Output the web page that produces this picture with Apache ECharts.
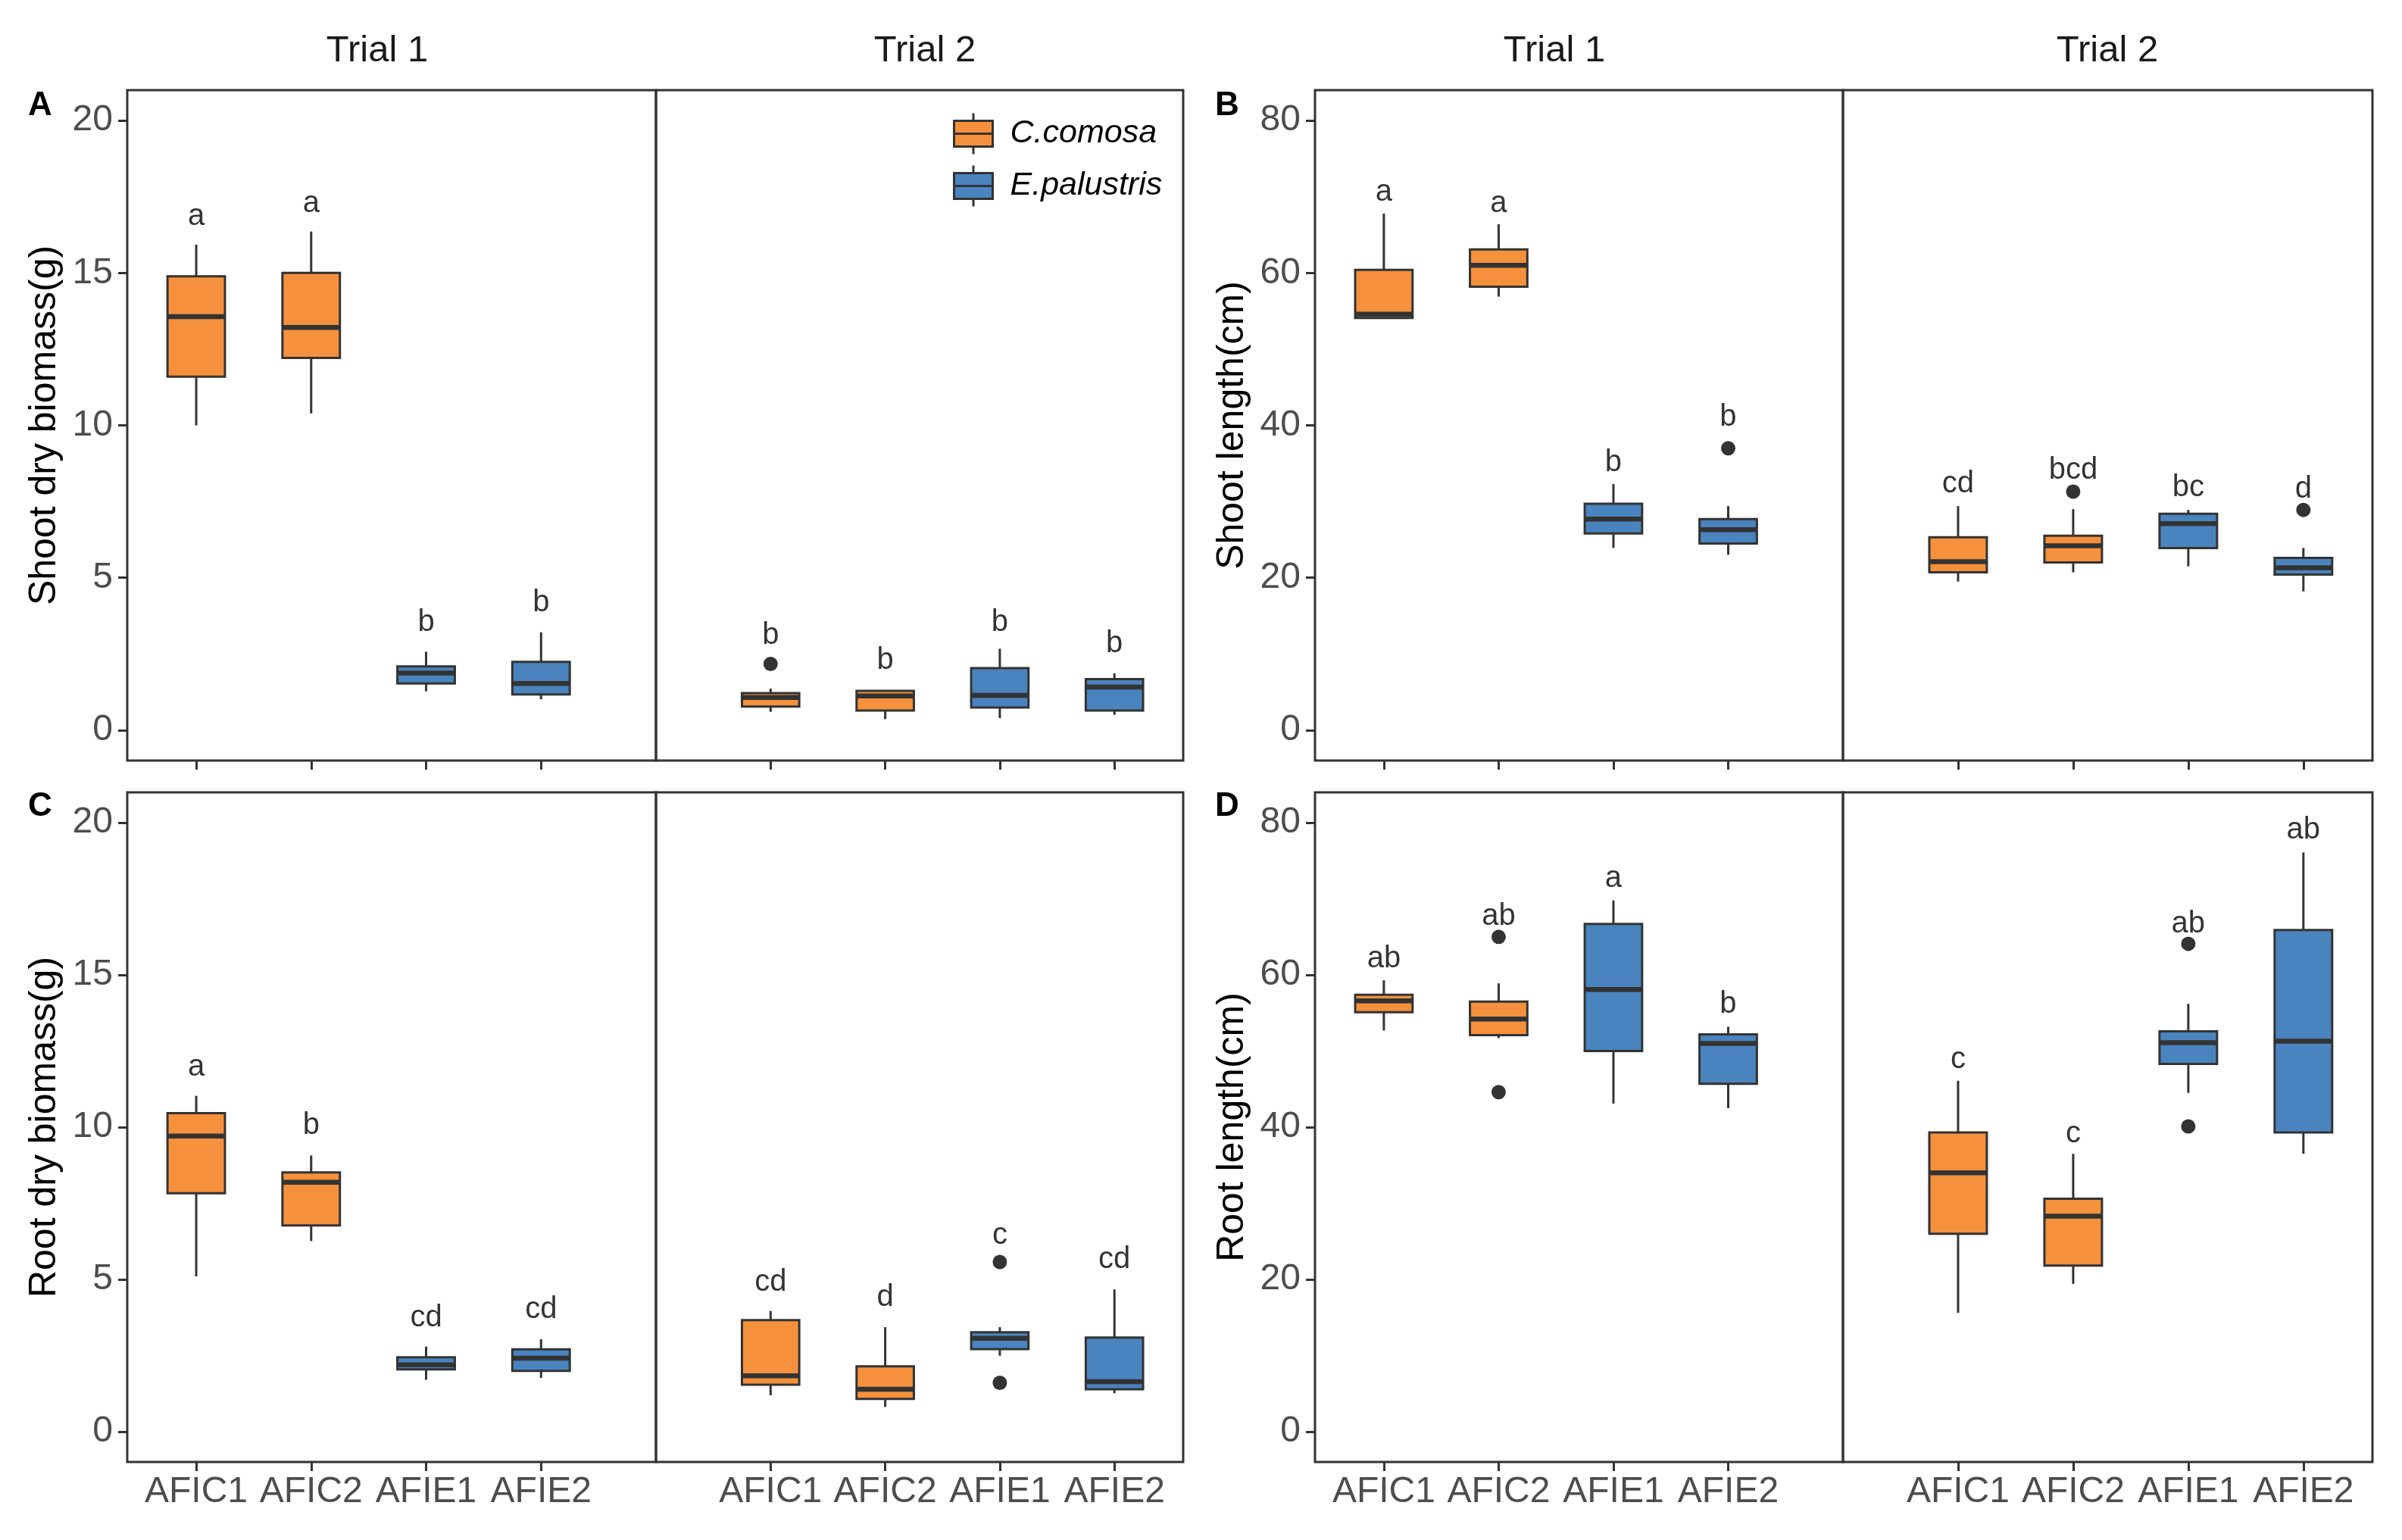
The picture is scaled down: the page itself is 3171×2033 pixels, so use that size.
<!DOCTYPE html>
<html>
<head>
<meta charset="utf-8">
<script src="https://cdn.jsdelivr.net/npm/echarts@6/dist/echarts.min.js"></script>
<style>
html,body{margin:0;padding:0;background:#ffffff;}
#chart{width:3171px;height:2033px;}
</style>
</head>
<body>
<div id="chart"></div>
<script>
// ---------------- DATA ----------------
const categories = ['AFIC1', 'AFIC2', 'AFIE1', 'AFIE2'];
const speciesNames = ['C.comosa', 'E.palustris'];
const categorySpecies = [0, 0, 1, 1];
const trialNames = ['Trial 1', 'Trial 2'];

const biomassTicks = [0, 5, 10, 15, 20];
const lengthTicks = [0, 20, 40, 60, 80];
const biomassRange = [-1, 21];
const lengthRange = [-4, 84];

// each box: [min, Q1, median, Q3, max]
// (A) Shoot dry biomass (g)
const shootBiomassTrial1 = [[10.0, 11.6, 13.57, 14.89, 15.93], [10.39, 12.21, 13.21, 15.0, 16.36], [1.27, 1.53, 1.87, 2.09, 2.57], [1.01, 1.17, 1.53, 2.24, 3.21]];
const shootBiomassTrial2 = [[0.6, 0.77, 1.07, 1.21, 1.36], [0.36, 0.64, 1.12, 1.29, 1.29], [0.39, 0.74, 1.14, 2.03, 2.67], [0.5, 0.64, 1.41, 1.67, 1.86]];
const shootBiomassOutliersTrial1 = [];
const shootBiomassOutliersTrial2 = [[0, 2.17]];
const shootBiomassLettersTrial1 = ['a', 'a', 'b', 'b'];
const shootBiomassLettersTrial2 = ['b', 'b', 'b', 'b'];
const shootBiomassLetterYTrial1 = [16.86, 17.27, 3.53, 4.17];
const shootBiomassLetterYTrial2 = [3.1, 2.27, 3.53, 2.84];

// (B) Shoot length (cm)
const shootLengthTrial1 = [[54.1, 54.1, 54.6, 60.4, 67.8], [56.9, 58.2, 61.0, 63.1, 66.4], [23.9, 25.8, 27.7, 29.7, 32.3], [23.0, 24.5, 26.3, 27.7, 29.4]];
const shootLengthTrial2 = [[19.5, 20.7, 22.1, 25.3, 29.4], [20.7, 22.0, 24.2, 25.5, 29.0], [21.5, 23.9, 27.1, 28.4, 28.9], [18.2, 20.4, 21.3, 22.6, 23.9]];
const shootLengthOutliersTrial1 = [[3, 37.0]];
const shootLengthOutliersTrial2 = [[1, 31.3], [3, 28.9]];
const shootLengthLettersTrial1 = ['a', 'a', 'b', 'b'];
const shootLengthLettersTrial2 = ['cd', 'bcd', 'bc', 'd'];
const shootLengthLetterYTrial1 = [70.6, 69.1, 35.1, 41.0];
const shootLengthLetterYTrial2 = [32.3, 34.1, 31.8, 31.6];

// (C) Root dry biomass (g)
const rootBiomassTrial1 = [[5.1, 7.83, 9.71, 10.46, 11.03], [6.26, 6.77, 8.19, 8.51, 9.07], [1.7, 2.04, 2.19, 2.44, 2.79], [1.76, 1.99, 2.41, 2.7, 3.03]];
const rootBiomassTrial2 = [[1.19, 1.54, 1.83, 3.66, 3.96], [0.81, 1.07, 1.39, 2.14, 3.43], [2.49, 2.71, 3.06, 3.26, 3.43], [1.26, 1.39, 1.64, 3.09, 4.67]];
const rootBiomassOutliersTrial1 = [];
const rootBiomassOutliersTrial2 = [[2, 5.57], [2, 1.6]];
const rootBiomassLettersTrial1 = ['a', 'b', 'cd', 'cd'];
const rootBiomassLettersTrial2 = ['cd', 'd', 'c', 'cd'];
const rootBiomassLetterYTrial1 = [11.96, 10.06, 3.74, 4.0];
const rootBiomassLetterYTrial2 = [4.9, 4.4, 6.43, 5.64];

// (D) Root length (cm)
const rootLengthTrial1 = [[52.7, 55.1, 56.6, 57.4, 59.3], [51.7, 52.1, 54.2, 56.5, 58.9], [43.1, 50.0, 58.1, 66.7, 69.8], [42.5, 45.7, 51.0, 52.2, 53.2]];
const rootLengthTrial2 = [[15.6, 26.0, 34.0, 39.3, 46.1], [19.4, 21.8, 28.3, 30.6, 36.5], [44.5, 48.3, 51.1, 52.6, 56.2], [36.5, 39.3, 51.3, 65.9, 76.1]];
const rootLengthOutliersTrial1 = [[1, 65.0], [1, 44.6]];
const rootLengthOutliersTrial2 = [[2, 64.1], [2, 40.1]];
const rootLengthLettersTrial1 = ['ab', 'ab', 'a', 'b'];
const rootLengthLettersTrial2 = ['c', 'c', 'ab', 'ab'];
const rootLengthLetterYTrial1 = [62.1, 67.7, 72.7, 56.1];
const rootLengthLetterYTrial2 = [48.9, 39.1, 66.7, 79.0];

// ---------------- STYLE / LAYOUT ----------------
const FONT = '"Liberation Sans", Arial, sans-serif';
const speciesColors = ['#F5913D', '#4A84BE'];
const DARK = '#333333';
const LW = 3;
const MED_LW = 6.5;
const BOX_W = 0.5;
const xRanges = [[-0.6, 4.0], [-1.0, 3.6]];

const panels = [
  { letter: 'A', yName: 'Shoot dry biomass(g)', range: biomassRange, ticks: biomassTicks, xLabels: false,
    left: 168, mid: 866, right: 1562, top: 119, bottom: 1004,
    trials: [
      { box: shootBiomassTrial1, out: shootBiomassOutliersTrial1, let: shootBiomassLettersTrial1, letY: shootBiomassLetterYTrial1 },
      { box: shootBiomassTrial2, out: shootBiomassOutliersTrial2, let: shootBiomassLettersTrial2, letY: shootBiomassLetterYTrial2 }] },
  { letter: 'B', yName: 'Shoot length(cm)', range: lengthRange, ticks: lengthTicks, xLabels: false,
    left: 1736, mid: 2433, right: 3132, top: 119, bottom: 1004,
    trials: [
      { box: shootLengthTrial1, out: shootLengthOutliersTrial1, let: shootLengthLettersTrial1, letY: shootLengthLetterYTrial1 },
      { box: shootLengthTrial2, out: shootLengthOutliersTrial2, let: shootLengthLettersTrial2, letY: shootLengthLetterYTrial2 }] },
  { letter: 'C', yName: 'Root dry biomass(g)', range: biomassRange, ticks: biomassTicks, xLabels: true,
    left: 168, mid: 866, right: 1562, top: 1046, bottom: 1930,
    trials: [
      { box: rootBiomassTrial1, out: rootBiomassOutliersTrial1, let: rootBiomassLettersTrial1, letY: rootBiomassLetterYTrial1 },
      { box: rootBiomassTrial2, out: rootBiomassOutliersTrial2, let: rootBiomassLettersTrial2, letY: rootBiomassLetterYTrial2 }] },
  { letter: 'D', yName: 'Root length(cm)', range: lengthRange, ticks: lengthTicks, xLabels: true,
    left: 1736, mid: 2433, right: 3132, top: 1046, bottom: 1930,
    trials: [
      { box: rootLengthTrial1, out: rootLengthOutliersTrial1, let: rootLengthLettersTrial1, letY: rootLengthLetterYTrial1 },
      { box: rootLengthTrial2, out: rootLengthOutliersTrial2, let: rootLengthLettersTrial2, letY: rootLengthLetterYTrial2 }] }
];

function boxRenderer(params, api) {
  const x = api.value(0);
  const pMin = api.coord([x, api.value(1)]);
  const pQ1 = api.coord([x, api.value(2)]);
  const pMed = api.coord([x, api.value(3)]);
  const pQ3 = api.coord([x, api.value(4)]);
  const pMax = api.coord([x, api.value(5)]);
  const w = api.size([BOX_W, 0])[0];
  const cx = pMed[0];
  const color = api.visual('color');
  return {
    type: 'group',
    children: [
      { type: 'line', shape: { x1: cx, y1: pQ3[1], x2: cx, y2: pMax[1] }, style: { stroke: DARK, lineWidth: LW } },
      { type: 'line', shape: { x1: cx, y1: pQ1[1], x2: cx, y2: pMin[1] }, style: { stroke: DARK, lineWidth: LW } },
      { type: 'rect', shape: { x: cx - w / 2, y: pQ3[1], width: w, height: pQ1[1] - pQ3[1] }, style: { fill: color, stroke: DARK, lineWidth: LW } },
      { type: 'line', shape: { x1: cx - w / 2, y1: pMed[1], x2: cx + w / 2, y2: pMed[1] }, style: { stroke: DARK, lineWidth: MED_LW } }
    ]
  };
}

const grids = [], xAxes = [], yAxes = [], series = [], graphics = [];
panels.forEach(function (p) {
  [0, 1].forEach(function (t) {
    const gi = grids.length;
    const gl = t === 0 ? p.left : p.mid;
    const gr = t === 0 ? p.mid : p.right;
    grids.push({ left: gl, top: p.top, width: gr - gl, height: p.bottom - p.top, show: true,
      borderColor: DARK, borderWidth: LW, backgroundColor: 'rgba(0,0,0,0)' });
    xAxes.push({
      type: 'value', gridIndex: gi, min: xRanges[t][0], max: xRanges[t][1], position: 'bottom',
      axisLine: { show: false, onZero: false }, splitLine: { show: false },
      axisTick: { show: true, customValues: [0, 1, 2, 3], length: 12, lineStyle: { color: DARK, width: LW } },
      axisLabel: { show: p.xLabels, customValues: [0, 1, 2, 3], margin: 16, fontSize: 48, fontFamily: FONT, color: '#4D4D4D',
        formatter: function (v) { return categories[Math.round(v)]; } }
    });
    yAxes.push({
      type: 'value', gridIndex: gi, min: p.range[0], max: p.range[1], position: 'left',
      name: t === 0 ? p.yName : '', nameLocation: 'middle', nameGap: 84,
      nameTextStyle: { fontSize: 50, fontFamily: FONT, color: '#000000' },
      axisLine: { show: false, onZero: false }, splitLine: { show: false },
      axisTick: { show: t === 0, customValues: p.ticks, length: 12, lineStyle: { color: DARK, width: LW } },
      axisLabel: { show: t === 0, customValues: p.ticks, margin: 19, fontSize: 48, fontFamily: FONT, color: '#4D4D4D' }
    });
    const tr = p.trials[t];
    [0, 1].forEach(function (s) {
      const data = [];
      tr.box.forEach(function (b, i) {
        if (categorySpecies[i] === s) data.push([i].concat(b));
      });
      series.push({
        type: 'custom', name: speciesNames[s], xAxisIndex: gi, yAxisIndex: gi,
        itemStyle: { color: speciesColors[s] },
        encode: { x: 0, y: [1, 2, 3, 4, 5] },
        renderItem: boxRenderer, data: data, z: 3
      });
    });
    series.push({
      type: 'scatter', name: 'outliers', xAxisIndex: gi, yAxisIndex: gi,
      symbol: 'circle', symbolSize: 19, itemStyle: { color: DARK, opacity: 1 },
      data: tr.out, z: 4
    });
    series.push({
      type: 'scatter', name: 'letters', xAxisIndex: gi, yAxisIndex: gi,
      symbol: 'circle', symbolSize: 1, itemStyle: { color: 'rgba(0,0,0,0)' },
      label: { show: true, position: 'inside', formatter: '{b}', fontSize: 40, fontFamily: FONT, color: '#000000' },
      data: tr.let.map(function (l, i) { return { name: l, value: [i, tr.letY[i]] }; }), z: 5
    });
  });
});

// strip titles and panel letters
const stripTitlePos = [[498, 67], [1221, 67], [2052, 67], [2782, 67]];
stripTitlePos.forEach(function (pos, i) {
  graphics.push({ type: 'text', x: pos[0], y: pos[1], z: 10,
    style: { text: trialNames[i % 2], fontSize: 49, fontFamily: FONT, fill: '#1A1A1A', align: 'center', verticalAlign: 'middle' } });
});
const letterPos = [[53, 140], [1620, 140], [53, 1065], [1620, 1065]];
panels.forEach(function (p, i) {
  graphics.push({ type: 'text', x: letterPos[i][0], y: letterPos[i][1], z: 10,
    style: { text: p.letter, fontSize: 44, fontWeight: 'bold', fontFamily: FONT, fill: '#000000', align: 'center', verticalAlign: 'middle' } });
});

const option = {
  backgroundColor: '#ffffff',
  animation: false,
  grid: grids,
  xAxis: xAxes,
  yAxis: yAxes,
  legend: {
    data: speciesNames,
    orient: 'vertical',
    left: 1253, top: 143,
    itemWidth: 51, itemHeight: 54, itemGap: 12,
    icon: 'path://M25.5 0 L25.5 10 M0 10 L51 10 L51 44 L0 44 Z M0 27 L51 27 M25.5 44 L25.5 54',
    itemStyle: { borderColor: DARK, borderWidth: LW },
    textStyle: { fontSize: 43, fontStyle: 'italic', fontFamily: FONT, color: '#000000', padding: [0, 0, 0, 18] },
    selectedMode: false
  },
  graphic: graphics,
  series: series
};

const chart = echarts.init(document.getElementById('chart'), null, { renderer: 'canvas' });
chart.setOption(option);
</script>
</body>
</html>
